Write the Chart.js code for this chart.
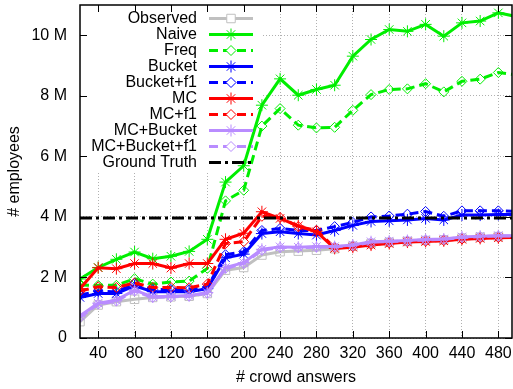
<!DOCTYPE html>
<html lang="en">
<head>
    <meta charset="UTF-8">
    <title># employees vs # crowd answers</title>
    <script src="https://cdn.jsdelivr.net/npm/chart.js@4"></script>
    <style>
        html, body {
            margin: 0;
            padding: 0;
            background-color: white;
        }
        .chart-container {
            position: relative;
            width: 513px;
            height: 389px;
        }
    </style>
</head>
<body>
    <div class="chart-container">
        <canvas id="employeesChart"></canvas>
    </div>

    <script>
        // Data (values in millions of employees)
        const answers = [20, 40, 60, 80, 100, 120, 140, 160, 180, 200, 220, 240, 260,
                         280, 300, 320, 340, 360, 380, 400, 420, 440, 460, 480, 500];

        const observed = [0.54, 1.09, 1.20, 1.28, 1.34, 1.36, 1.38, 1.47, 2.24, 2.33, 2.74, 2.85, 2.87,
                          2.90, 2.95, 3.03, 3.12, 3.16, 3.19, 3.22, 3.24, 3.30, 3.33, 3.35, 3.36];
        const naive = [1.95, 2.33, 2.60, 2.84, 2.62, 2.70, 2.86, 3.26, 5.15, 5.69, 7.69, 8.56, 8.02,
                       8.21, 8.35, 9.31, 9.86, 10.19, 10.13, 10.36, 9.97, 10.41, 10.47, 10.74, 10.62];
        const freq = [1.75, 1.74, 1.74, 1.96, 1.78, 1.85, 1.88, 2.30, 4.53, 4.88, 7.00, 7.58, 7.03,
                      6.94, 6.96, 7.52, 8.04, 8.21, 8.23, 8.40, 8.13, 8.48, 8.55, 8.77, 8.69];
        const bucket = [1.34, 1.47, 1.47, 1.72, 1.53, 1.53, 1.53, 1.63, 2.65, 2.77, 3.45, 3.51, 3.45,
                        3.40, 3.55, 3.72, 3.85, 3.87, 3.90, 3.95, 3.90, 4.06, 4.06, 4.08, 4.08];
        const bucketF1 = [1.42, 1.55, 1.52, 1.80, 1.60, 1.60, 1.60, 1.68, 2.75, 2.85, 3.55, 3.62, 3.55,
                          3.55, 3.68, 3.82, 4.00, 4.03, 4.09, 4.18, 4.02, 4.20, 4.20, 4.20, 4.18];
        const mc = [1.63, 2.32, 2.29, 2.46, 2.46, 2.31, 2.46, 2.46, 3.26, 3.46, 4.17, 3.95, 3.70,
                    3.51, 2.96, 3.00, 3.07, 3.12, 3.17, 3.19, 3.21, 3.26, 3.29, 3.31, 3.32];
        const mcF1 = [1.55, 1.69, 1.67, 1.82, 1.67, 1.67, 1.66, 1.78, 3.12, 3.18, 4.02, 3.98, 3.68,
                      3.56, 2.98, 3.02, 3.09, 3.14, 3.18, 3.20, 3.22, 3.27, 3.30, 3.32, 3.33];
        const mcBucket = [0.73, 1.15, 1.25, 1.58, 1.36, 1.38, 1.40, 1.50, 2.33, 2.49, 2.93, 3.01, 3.00,
                          3.02, 3.02, 3.07, 3.18, 3.20, 3.22, 3.25, 3.27, 3.34, 3.36, 3.38, 3.38];
        const mcBucketF1 = [0.68, 1.12, 1.22, 1.55, 1.34, 1.36, 1.38, 1.48, 2.30, 2.46, 2.90, 2.99, 2.98,
                            3.00, 3.01, 3.06, 3.16, 3.19, 3.21, 3.24, 3.26, 3.32, 3.35, 3.37, 3.37];
        const groundTruth = 3.96;

        const xTicks = [40, 80, 120, 160, 200, 240, 280, 320, 360, 400, 440, 480];
        const yTicks = [0, 2, 4, 6, 8, 10];
        const yTickLabels = ['0', '2 M', '4 M', '6 M', '8 M', '10 M'];

        const xMin = 20, xMax = 495;
        const FONT = "'Liberation Sans', Arial, sans-serif";

        const green = '#00ee00', blue = '#0000ff', red = '#ff0000', purple = '#b98cff';
        const dashed = [9, 5];

        // name, values, color, dash, marker
        const series = [
            ['Observed', observed, '#c0c0c0', [], 'rect'],
            ['Naive', naive, green, [], 'star'],
            ['Freq', freq, green, dashed, 'rectRot'],
            ['Bucket', bucket, blue, [], 'star'],
            ['Bucket+f1', bucketF1, blue, dashed, 'rectRot'],
            ['MC', mc, red, [], 'star'],
            ['MC+f1', mcF1, red, dashed, 'rectRot'],
            ['MC+Bucket', mcBucket, purple, [], 'star'],
            ['MC+Bucket+f1', mcBucketF1, purple, dashed, 'rectRot']
        ];

        const datasets = series.map(([name, values, color, dash, marker], i) => ({
            label: name,
            data: answers.map((x, j) => ({ x: x, y: values[j] })),
            borderColor: color,
            backgroundColor: 'rgba(0,0,0,0)',
            borderWidth: 3,
            borderDash: dash,
            pointStyle: marker,
            pointRadius: ctx => (ctx.raw && ctx.raw.x > xMax) ? 0 : (marker === 'rectRot' ? 5 : 6),
            pointBorderWidth: 1,
            pointBorderColor: color,
            pointBackgroundColor: 'rgba(0,0,0,0)',
            order: series.length + 1 - i,
            clip: 0
        }));

        datasets.push({
            label: 'Ground Truth',
            data: [{ x: answers[0], y: groundTruth }, { x: answers[answers.length - 1], y: groundTruth }],
            borderColor: '#000000',
            borderWidth: 3,
            borderDash: [12, 4, 3, 4],
            pointRadius: 0,
            order: 0,
            clip: 0
        });

        // key box, drawn like gnuplot's opaque key
        const keyPlugin = {
            id: 'keyPlugin',
            beforeDatasetsDraw(chart) {
                const { ctx, chartArea } = chart;
                ctx.save();
                ctx.fillStyle = 'white';
                ctx.fillRect(chartArea.left + 1, chartArea.top + 1, 182, 165);
                ctx.restore();
            },
            afterDatasetsDraw(chart) {
                const { ctx } = chart;
                ctx.save();
                ctx.font = '16px ' + FONT;
                ctx.textAlign = 'right';
                ctx.textBaseline = 'middle';
                chart.data.datasets.forEach((ds, i) => {
                    const y = 18.5 + i * 16;
                    ctx.fillStyle = '#000';
                    ctx.fillText(ds.label, 197, y);
                    ctx.strokeStyle = ds.borderColor;
                    ctx.lineWidth = ds.borderWidth;
                    ctx.setLineDash(ds.borderDash || []);
                    ctx.beginPath();
                    ctx.moveTo(209, y);
                    ctx.lineTo(253, y);
                    ctx.stroke();
                    ctx.setLineDash([]);
                    if (ds.pointStyle) {
                        ctx.lineWidth = 1;
                        ctx.fillStyle = 'white';
                        Chart.helpers.drawPoint(ctx, {
                            pointStyle: ds.pointStyle,
                            radius: ds.pointStyle === 'rectRot' ? 5 : 6,
                            borderWidth: 1,
                            rotation: 0
                        }, 231, y);
                    }
                });
                ctx.restore();
            },
            afterDraw(chart) {
                // border and inward tick marks on all four sides
                const { ctx, chartArea, scales } = chart;
                const { left, right, top, bottom } = chartArea;
                ctx.save();
                ctx.strokeStyle = '#000';
                ctx.lineWidth = 1;
                ctx.beginPath();
                xTicks.forEach(v => {
                    const px = Math.round(scales.x.getPixelForValue(v)) + 0.5;
                    ctx.moveTo(px, bottom); ctx.lineTo(px, bottom - 7);
                    ctx.moveTo(px, top); ctx.lineTo(px, top + 7);
                });
                yTicks.forEach(v => {
                    const py = Math.round(scales.y.getPixelForValue(v)) + 0.5;
                    ctx.moveTo(left, py); ctx.lineTo(left + 7, py);
                    ctx.moveTo(right, py); ctx.lineTo(right - 7, py);
                });
                ctx.stroke();
                ctx.lineWidth = 1.5;
                ctx.strokeRect(left, top, right - left, bottom - top);
                ctx.restore();
            }
        };

        const ctx = document.getElementById('employeesChart').getContext('2d');
        const chart = new Chart(ctx, {
            type: 'line',
            data: { datasets: datasets },
            plugins: [keyPlugin],
            options: {
                responsive: true,
                maintainAspectRatio: false,
                animation: false,
                layout: {
                    autoPadding: false,
                    padding: { top: 5, right: 1, left: 0, bottom: 0 }
                },
                plugins: {
                    legend: { display: false },
                    tooltip: { enabled: false }
                },
                scales: {
                    x: {
                        type: 'linear',
                        min: xMin,
                        max: xMax,
                        afterBuildTicks: axis => { axis.ticks = xTicks.map(v => ({ value: v })); },
                        afterFit: scale => {
                            scale.height = 51;
                            scale.paddingLeft = 0;
                            scale.paddingRight = 0;
                        },
                        grid: { color: '#b0b0b0', lineWidth: 1, drawTicks: false },
                        border: { display: false, dash: [1, 2] },
                        ticks: {
                            color: '#000',
                            font: { family: FONT, size: 16 },
                            padding: 6,
                            maxRotation: 0,
                            autoSkip: false
                        },
                        title: {
                            display: true,
                            text: '# crowd answers',
                            color: '#000',
                            font: { family: FONT, size: 16 },
                            padding: { top: 0, bottom: 2 }
                        }
                    },
                    y: {
                        min: 0,
                        max: 11,
                        afterBuildTicks: axis => { axis.ticks = yTicks.map(v => ({ value: v })); },
                        afterFit: scale => {
                            scale.width = 80;
                            scale.paddingTop = 0;
                            scale.paddingBottom = 0;
                        },
                        grid: { color: '#b0b0b0', lineWidth: 1, drawTicks: false },
                        border: { display: false, dash: [1, 2] },
                        ticks: {
                            color: '#000',
                            font: { family: FONT, size: 16 },
                            padding: 13,
                            callback: (v) => yTickLabels[yTicks.indexOf(v)]
                        },
                        title: {
                            display: true,
                            text: '# employees',
                            color: '#000',
                            font: { family: FONT, size: 16 },
                            padding: { top: 5, bottom: 0 }
                        }
                    }
                }
            }
        });
    </script>
</body>
</html>
